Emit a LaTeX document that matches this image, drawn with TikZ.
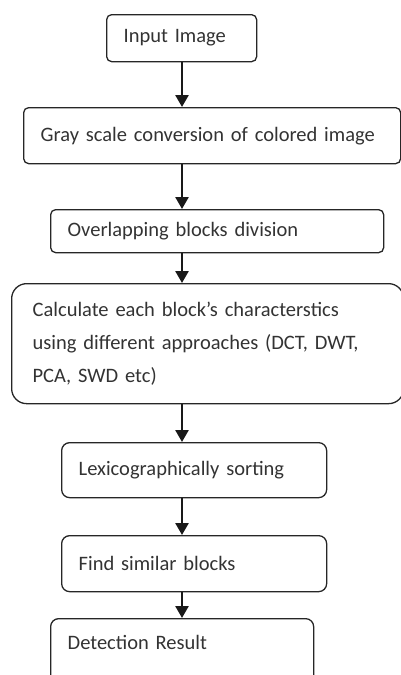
\documentclass[tikz,border=0pt]{standalone}
\usepackage{fontspec}
\setmainfont{Carlito}
\usetikzlibrary{arrows.meta}
\begin{document}
\begin{tikzpicture}[x=1pt,y=-1pt,
  box/.style={draw=black!85, line width=1.3pt, anchor=north west, inner xsep=17pt, inner ysep=0pt,
    align=left, text=black!80, font=\fontsize{20.5}{33}\selectfont},
  arr/.style={draw=black!90, line width=2.6pt, -{Triangle[width=13pt,length=12pt]}}]
\clip (0,0) rectangle (401,675);
\useasboundingbox (0,0) rectangle (401,675);
\node[box, rounded corners=5pt, text width=116pt, minimum height=47pt] (b1) at (106,14) {Input Image};
\node[box, rounded corners=5pt, text width=343pt, minimum height=56pt] (b2) at (23,107) {Gray scale conversion of colored image};
\node[box, rounded corners=5pt, text width=299pt, minimum height=43pt] (b3) at (50,209) {Overlapping blocks division};
\node[box, rounded corners=15pt, inner xsep=21pt, text width=350pt, minimum height=120pt] (b4) at (11,283)
  {Calculate each block’s characterstics\\using different approaches (DCT, DWT,\\PCA, SWD etc)};
\node[box, rounded corners=8pt, text width=231pt, minimum height=55pt] (b5) at (61,442) {Lexicographically sorting};
\node[box, rounded corners=8pt, text width=231pt, minimum height=56pt] (b6) at (61,535) {Find similar blocks};
\node[box, rounded corners=8pt, text width=229pt, text height=31pt, text depth=40pt] (b7) at (50,618) {Detection Result};
\coordinate (ax) at (182,0);
\draw[arr] (b1.south -| ax) -- (b2.north -| ax);
\draw[arr] (b2.south -| ax) -- (b3.north -| ax);
\draw[arr] (b3.south -| ax) -- (b4.north -| ax);
\draw[arr] (b4.south -| ax) -- (b5.north -| ax);
\draw[arr] (b5.south -| ax) -- (b6.north -| ax);
\draw[arr] (b6.south -| ax) -- (b7.north -| ax);
\end{tikzpicture}
\end{document}
